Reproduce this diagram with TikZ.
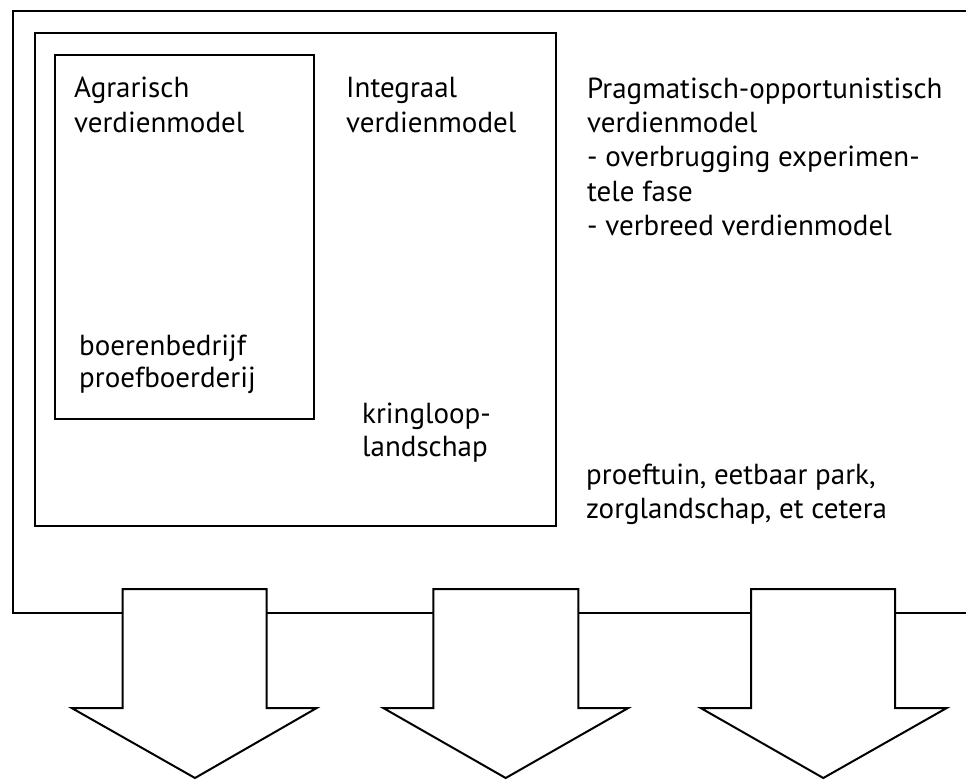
\documentclass[tikz,border=0pt]{standalone}
\usepackage{fontspec}
\setmainfont{PT Sans}
\begin{document}
\begin{tikzpicture}[x=1pt,y=-1pt,
  boxline/.style={draw=black,line width=1.3pt},
  bigarrow/.style={draw=black,fill=white,line width=2pt,line join=miter},
  lbl/.style={anchor=north west,inner sep=0pt,align=left,text=black}]
\useasboundingbox (0,0) rectangle (966,780);
\clip (0,0) rectangle (966,780);
% outer box (open to the right)
\draw[boxline] (990,11) -- (13,11) -- (13,613) -- (990,613);
% inner box
\draw[boxline] (35,33) rectangle (556,526);
% innermost box
\draw[boxline] (55,55) rectangle (314,419);
% texts
\node[lbl,font=\fontsize{29}{35.4}\selectfont] (agr) at (74,72.5) {\strut Agrarisch\\verdienmodel};
\node[lbl,font=\fontsize{29}{35.4}\selectfont] (int) at (346,72.5) {\strut Integraal\\verdienmodel};
\node[lbl,font=\fontsize{29}{34.3}\selectfont] (prag) at (587,74) {\strut Pragmatisch-opportunistisch\\verdienmodel\\- overbrugging experimen-\\tele fase\\- verbreed verdienmodel};
\node[lbl,font=\fontsize{29}{32}\selectfont] (boer) at (79,332.6) {\strut boerenbedrijf\\proefboerderij};
\node[lbl,font=\fontsize{29}{33}\selectfont] (kring) at (362,400.4) {\strut kringloop-\\landschap};
\node[lbl,font=\fontsize{29}{34}\selectfont] (proef) at (586,460.2) {\strut proeftuin, eetbaar park,\\zorglandschap, et cetera};
% block arrows
\draw[bigarrow] (122.7,589) -- (266.7,589) -- (266.7,708) -- (316.7,708) -- (195,778) -- (71.7,708) -- (122.7,708) -- cycle;
\draw[bigarrow] (433.3,589) -- (578.3,589) -- (578.3,708) -- (628.3,708) -- (505.7,778) -- (383.3,708) -- (433.3,708) -- cycle;
\draw[bigarrow] (751,589) -- (895,589) -- (895,708) -- (946.7,708) -- (823.3,778) -- (700.7,708) -- (751,708) -- cycle;
\end{tikzpicture}
\end{document}
